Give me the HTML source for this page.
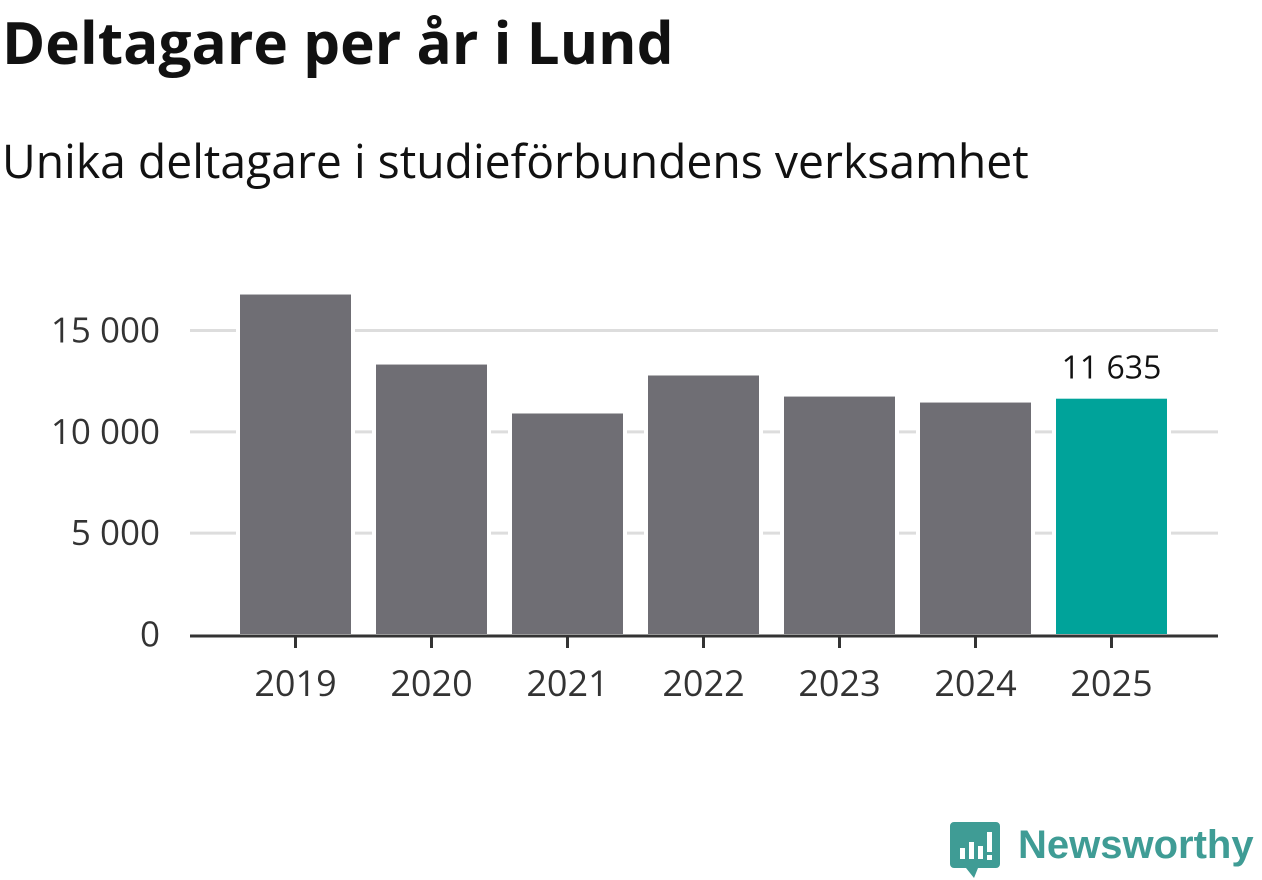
<!DOCTYPE html>
<html><head><meta charset="utf-8"><style>
body{margin:0;background:#fff;width:1262px;height:879px;overflow:hidden;font-family:"Open Sans","Liberation Sans","DejaVu Sans",sans-serif}
h1{position:absolute;left:2px;top:7px;margin:0;font-size:58.5px;font-weight:bold;color:#111;line-height:1.2}
h2{position:absolute;left:2px;top:133px;margin:0;font-size:46.3px;font-weight:normal;color:#111;line-height:1.2}
svg text{font-family:"Open Sans","Liberation Sans",sans-serif}
</style></head><body>
<h1>Deltagare per år i Lund</h1>
<h2>Unika deltagare i studieförbundens verksamhet</h2>
<svg id="chart" width="1262" height="879" style="position:absolute;left:0;top:0"></svg>
<script>
const categories=["2019","2020","2021","2022","2023","2024","2025"];
const values=[16775,13320,10905,12780,11740,11445,11635];
const yTicks=[0,5000,10000,15000];
const highlightLabel="11 635";
const NS="http://www.w3.org/2000/svg";
const svg=document.getElementById('chart');
function y(v){return 634.5-v*304/15000;}
function x(i){return 240+136*i;}
const bw=111;
function el(t,a){const e=document.createElementNS(NS,t);for(const k in a)e.setAttribute(k,a[k]);svg.appendChild(e);return e;}
function fmt(v){return String(v).replace(/\B(?=(\d{3})+(?!\d))/g,' ');}
yTicks.forEach(t=>{
  if(t>0){const g=el('line',{x1:190,x2:1218,y1:y(t),y2:y(t),stroke:'#dddddd','stroke-width':3});
  
  }
  const tx=el('text',{x:160,y:y(t)+12,'text-anchor':'end','font-size':35,fill:'#333'});
  tx.textContent=fmt(t);
  
  
});
values.forEach((v,i)=>{
  el('rect',{x:x(i)-4,y:y(v)-2,width:bw+8,height:634-y(v)+2,fill:'#fff'});
  const last=i===values.length-1;
  const r=el('rect',{x:x(i),y:y(v),width:bw,height:634-y(v),fill:last?'#00a39a':'#6f6e74'});
  
  
  const tk=el('line',{x1:x(i)+bw/2,x2:x(i)+bw/2,y1:636,y2:648,stroke:'#333','stroke-width':3});
  
  
  const t=el('text',{x:x(i)+bw/2,y:696,'text-anchor':'middle','font-size':36,fill:'#333'});
  t.textContent=categories[i];
  
  
  if(last){const l=el('text',{x:x(i)+bw/2,y:y(v)-20,'text-anchor':'middle','font-size':32,fill:'#111'});
  l.textContent=highlightLabel;
  
  }
});
const ax=el('line',{x1:190,x2:1218,y1:636,y2:636,stroke:'#333','stroke-width':3});


</script>
<svg width="320" height="70" style="position:absolute;left:940px;top:810px">
<path d="M14 12 h42 a4 4 0 0 1 4 4 v38 a4 4 0 0 1 -4 4 h-18 l-4 10 l-8 -10 h-12 a4 4 0 0 1 -4 -4 v-38 a4 4 0 0 1 4 -4z" fill="#3f9c95"/>
<rect x="20" y="38" width="5" height="11" fill="#fff"/><rect x="29" y="32" width="5" height="17" fill="#fff"/><rect x="38" y="36" width="5" height="13" fill="#fff"/><rect x="47" y="22" width="5" height="20" fill="#fff"/><rect x="47" y="45" width="5" height="5" fill="#fff"/>
<text x="78" y="48" font-size="40" font-weight="bold" fill="#3f9c95" style="font-family:'Liberation Sans',sans-serif">Newsworthy</text>
</svg>
</body></html>
